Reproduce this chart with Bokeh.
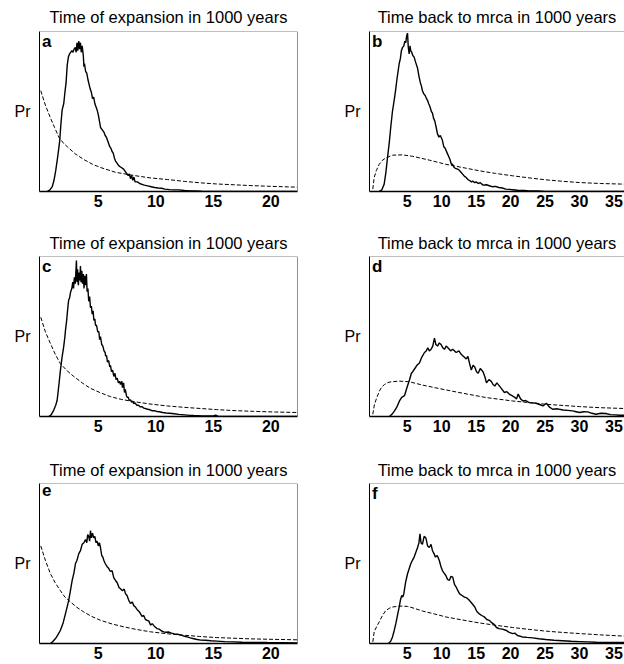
from bokeh.plotting import figure
from bokeh.layouts import column, row
from bokeh.models import Range1d, FixedTicker, Label, Span
from bokeh.embed import file_html
from bokeh.resources import INLINE

# ---------------- data ----------------
title_left = "Time of expansion in 1000 years"
title_right = "Time back to mrca in 1000 years"
ticks_left = [5, 10, 15, 20]
ticks_right = [5, 10, 15, 20, 25, 30, 35]

# panel a
a_t = [0.55, 0.8, 1.0, 1.15, 1.3, 1.42, 1.55, 1.65, 1.75, 1.86, 2.0, 2.1, 2.2, 2.3, 2.4, 2.5, 2.6, 2.7, 2.8, 2.9,
       3.0, 3.08, 3.15, 3.22, 3.3, 3.38, 3.45, 3.52, 3.6, 3.7, 3.75, 3.8, 3.9, 4.0, 4.1, 4.2, 4.3, 4.4, 4.5, 4.6,
       4.7, 4.8, 4.9, 5.0, 5.1, 5.2, 5.3, 5.4, 5.5, 5.6, 5.7, 5.8, 5.9, 6.0, 6.1, 6.2, 6.3, 6.4, 6.5, 6.6,
       6.7, 6.8, 6.9, 7.0, 7.2, 7.4, 7.6, 7.7, 7.8, 7.9, 8.0, 8.1, 8.2, 8.4, 8.6, 8.8, 9.0, 9.3, 9.6, 9.9,
       10.2, 10.5, 10.8, 11.2, 11.6, 12.0, 12.5, 13.0, 13.5, 14.0, 15.0, 16.0, 18.0, 20.0, 22.3]
a_pr = [0.0, 0.01, 0.03, 0.07, 0.13, 0.19, 0.26, 0.32, 0.42, 0.51, 0.55, 0.62, 0.68, 0.79, 0.84, 0.86, 0.87, 0.88, 0.87, 0.89,
        0.9, 0.87, 0.93, 0.88, 0.94, 0.89, 0.93, 0.87, 0.91, 0.85, 0.78, 0.8, 0.75, 0.74, 0.7, 0.67, 0.64, 0.62, 0.58, 0.59,
        0.55, 0.53, 0.51, 0.48, 0.44, 0.4, 0.39, 0.38, 0.37, 0.35, 0.34, 0.32, 0.3, 0.28, 0.27, 0.25, 0.24, 0.21, 0.19, 0.18,
        0.17, 0.16, 0.155, 0.15, 0.14, 0.12, 0.1, 0.11, 0.08, 0.1, 0.07, 0.09, 0.06, 0.06, 0.05, 0.045, 0.04, 0.035, 0.03, 0.025,
        0.022, 0.02, 0.015, 0.012, 0.01, 0.01, 0.006, 0.004, 0.003, 0.002, 0.001, 0.0, 0.0, 0.0, 0.0]
a_prior_t = [0, 0.4, 0.84, 1.2, 1.57, 2.0, 2.3, 3.0, 3.74, 4.5, 5.19, 6.5, 8.1, 9.5, 11, 12.5, 13.9, 15.3, 16.8, 18.2, 19.7, 21, 22.3]
a_prior = [0.63, 0.54, 0.46, 0.4, 0.34, 0.3, 0.28, 0.235, 0.2, 0.17, 0.15, 0.12, 0.1, 0.085, 0.075, 0.063, 0.054, 0.047, 0.042, 0.037, 0.033, 0.03, 0.027]

# panel b
b_t = [0.9, 1.3, 1.65, 1.9, 2.13, 2.4, 2.6, 2.85, 3.1, 3.3, 3.5, 3.7, 3.83, 4.0, 4.15, 4.31, 4.5, 4.65, 4.79, 4.9,
       5.04, 5.15, 5.28, 5.4, 5.5, 5.65, 5.8, 6.0, 6.2, 6.35, 6.5, 6.7, 6.9, 7.05, 7.2, 7.4, 7.6, 7.8, 7.94, 8.1,
       8.3, 8.5, 8.66, 8.8, 9.0, 9.2, 9.39, 9.6, 9.8, 10.1, 10.3, 10.5, 10.8, 11.0, 11.2, 11.4, 11.57, 11.8, 12.0, 12.3,
       12.5, 12.8, 13.0, 13.3, 13.5, 13.8, 14.0, 14.3, 14.5, 14.8, 15.0, 15.3, 15.6, 16.0, 16.5, 16.9, 17.3, 17.8, 18.3, 18.8,
       19.3, 19.8, 20.3, 21.0, 22.0, 22.7, 24.0, 25.0, 27.0, 30.0, 33.0, 36.5]
b_pr = [0.0, 0.01, 0.046, 0.12, 0.21, 0.31, 0.4, 0.5, 0.57, 0.63, 0.7, 0.76, 0.8, 0.83, 0.88, 0.9, 0.91, 0.94, 0.93, 0.97,
        0.99, 0.9, 0.86, 0.91, 0.88, 0.87, 0.85, 0.84, 0.81, 0.79, 0.77, 0.72, 0.68, 0.66, 0.63, 0.61, 0.6, 0.58, 0.57, 0.55,
        0.53, 0.5, 0.49, 0.46, 0.44, 0.4, 0.36, 0.34, 0.35, 0.32, 0.28, 0.27, 0.24, 0.22, 0.2, 0.17, 0.17, 0.15, 0.145, 0.14,
        0.135, 0.12, 0.11, 0.095, 0.09, 0.075, 0.07, 0.06, 0.065, 0.055, 0.06, 0.05, 0.055, 0.04, 0.042, 0.036, 0.03, 0.032, 0.025, 0.022,
        0.015, 0.013, 0.011, 0.008, 0.006, 0.004, 0.003, 0.001, 0.001, 0.0, 0.0, 0.0]
b_prior_t = [0, 0.2, 0.5, 0.93, 1.4, 1.9, 2.86, 4.3, 5.76, 7.0, 8.2, 10.6, 13.0, 15.4, 17.8, 20.3, 22.7, 25.1, 27.5, 30, 33, 36.5]
b_prior = [0.015, 0.087, 0.13, 0.17, 0.195, 0.21, 0.227, 0.229, 0.22, 0.208, 0.196, 0.17, 0.15, 0.13, 0.113, 0.098, 0.085, 0.073, 0.064, 0.056, 0.05, 0.046]

# panel c
c_t = [0.7, 0.9, 1.13, 1.3, 1.42, 1.55, 1.71, 1.85, 2.0, 2.1, 2.15, 2.25, 2.3, 2.38, 2.43, 2.5, 2.6, 2.7, 2.78, 2.85,
       2.92, 3.0, 3.05, 3.1, 3.15, 3.2, 3.27, 3.33, 3.4, 3.45, 3.5, 3.57, 3.63, 3.7, 3.76, 3.82, 3.9, 3.97, 4.03, 4.1,
       4.17, 4.25, 4.32, 4.4, 4.47, 4.55, 4.62, 4.7, 4.76, 4.85, 4.95, 5.05, 5.12, 5.19, 5.3, 5.4, 5.5, 5.6, 5.63, 5.72,
       5.8, 5.9, 6.0, 6.06, 6.15, 6.25, 6.35, 6.45, 6.55, 6.65, 6.75, 6.85, 6.93, 7.05, 7.1, 7.2, 7.28, 7.35, 7.45, 7.51,
       7.6, 7.7, 7.8, 7.9, 8.0, 8.09, 8.2, 8.35, 8.5, 8.65, 8.8, 8.96, 9.1, 9.3, 9.5, 9.7, 9.9, 10.1, 10.3, 10.6,
       10.9, 11.2, 11.6, 12.0, 12.5, 13.0, 13.3, 14.0, 15.0, 15.2, 15.4, 16.0, 18.0, 20.0, 22.3]
c_pr = [0.0, 0.01, 0.04, 0.07, 0.1, 0.18, 0.29, 0.37, 0.44, 0.5, 0.54, 0.6, 0.64, 0.7, 0.73, 0.74, 0.78, 0.8, 0.84, 0.8,
        0.87, 0.83, 0.9, 0.975, 0.84, 0.92, 0.82, 0.9, 0.85, 0.94, 0.84, 0.91, 0.83, 0.89, 0.8, 0.88, 0.82, 0.89, 0.78, 0.8,
        0.72, 0.75, 0.68, 0.69, 0.64, 0.66, 0.6, 0.61, 0.57, 0.57, 0.53, 0.53, 0.48, 0.5, 0.45, 0.44, 0.41, 0.4, 0.38, 0.38,
        0.34, 0.35, 0.31, 0.32, 0.28, 0.29, 0.25, 0.27, 0.23, 0.24, 0.21, 0.22, 0.2, 0.22, 0.18, 0.21, 0.15, 0.17, 0.13, 0.12,
        0.12, 0.1, 0.105, 0.09, 0.095, 0.08, 0.085, 0.07, 0.07, 0.06, 0.062, 0.052, 0.05, 0.045, 0.042, 0.036, 0.037, 0.031, 0.03, 0.025,
        0.022, 0.02, 0.017, 0.013, 0.01, 0.007, 0.006, 0.004, 0.003, 0.008, 0.002, 0.001, 0.0, 0.0, 0.0]
c_prior_t = [0, 0.4, 0.84, 1.25, 1.71, 2.3, 2.87, 3.6, 4.32, 5.2, 6.06, 7.0, 8.09, 9.5, 11, 12.5, 13.9, 15.3, 16.8, 18.5, 20.4, 22.3]
c_prior = [0.62, 0.53, 0.456, 0.39, 0.33, 0.285, 0.25, 0.21, 0.176, 0.148, 0.124, 0.107, 0.093, 0.078, 0.066, 0.057, 0.05, 0.043, 0.037, 0.032, 0.028, 0.025]

# panel d
d_t = [2.42, 2.8, 3.15, 3.5, 3.87, 4.2, 4.6, 4.95, 5.33, 5.6, 5.8, 6.1, 6.4, 6.77, 7.1, 7.5, 7.75, 7.98, 8.2, 8.46,
       8.7, 8.95, 9.15, 9.4, 9.65, 9.9, 10.15, 10.4, 10.65, 10.9, 11.1, 11.3, 11.6, 12.1, 12.5, 12.8, 13.05, 13.3, 13.55, 13.8,
       14.05, 14.3, 14.55, 14.8, 15.05, 15.3, 15.6, 16.0, 16.25, 16.5, 16.85, 17.2, 17.45, 17.7, 18.0, 18.4, 18.75, 19.1, 19.45, 19.8,
       20.2, 20.6, 20.85, 21.1, 21.45, 21.8, 22.2, 22.7, 23.2, 23.7, 24.2, 24.7, 25.2, 25.6, 26.1, 26.8, 27.6, 28.3, 29.0, 29.5,
       30.0, 30.6, 31.2, 31.8, 32.4, 33.1, 33.8, 34.5, 35.2, 35.8, 36.5]
d_pr = [0.0, 0.015, 0.035, 0.06, 0.097, 0.12, 0.13, 0.18, 0.23, 0.27, 0.28, 0.3, 0.32, 0.335, 0.37, 0.4, 0.41, 0.43, 0.41, 0.42,
        0.44, 0.49, 0.45, 0.44, 0.46, 0.45, 0.43, 0.42, 0.44, 0.43, 0.42, 0.41, 0.42, 0.4, 0.41, 0.39, 0.38, 0.37, 0.36, 0.375,
        0.33, 0.29, 0.32, 0.31, 0.28, 0.27, 0.3, 0.28, 0.25, 0.21, 0.23, 0.22, 0.2, 0.19, 0.21, 0.19, 0.17, 0.15, 0.155, 0.14,
        0.13, 0.12, 0.11, 0.14, 0.11, 0.097, 0.1, 0.087, 0.085, 0.083, 0.075, 0.066, 0.083, 0.06, 0.045, 0.048, 0.041, 0.038, 0.035, 0.03,
        0.025, 0.03, 0.029, 0.02, 0.014, 0.02, 0.019, 0.012, 0.01, 0.008, 0.008]
d_prior_t = [0, 0.24, 0.6, 0.97, 1.3, 1.7, 2.2, 2.66, 3.87, 5.3, 7.26, 9.7, 13.1, 16.5, 20.3, 25.2, 30, 33, 36.5]
d_prior = [0.014, 0.076, 0.12, 0.16, 0.185, 0.2, 0.212, 0.217, 0.221, 0.217, 0.196, 0.174, 0.145, 0.118, 0.097, 0.076, 0.062, 0.055, 0.05]

# panel e
e_t = [0.84, 1.05, 1.28, 1.5, 1.71, 1.95, 2.15, 2.3, 2.43, 2.58, 2.73, 2.88, 3.02, 3.15, 3.3, 3.45, 3.6, 3.75, 3.89, 4.0,
       4.08, 4.17, 4.25, 4.32, 4.4, 4.5, 4.6, 4.7, 4.8, 4.9, 5.0, 5.1, 5.19, 5.3, 5.4, 5.48, 5.6, 5.77, 5.9, 6.05,
       6.2, 6.35, 6.5, 6.65, 6.8, 6.93, 7.1, 7.25, 7.37, 7.5, 7.65, 7.8, 7.95, 8.1, 8.23, 8.4, 8.55, 8.67, 8.8, 8.95,
       9.1, 9.25, 9.4, 9.55, 9.69, 9.85, 10.0, 10.1, 10.3, 10.5, 10.7, 10.9, 11.1, 11.3, 11.6, 11.9, 12.2, 12.5, 12.8, 13.0,
       13.3, 13.6, 13.9, 14.3, 14.8, 15.3, 16.0, 16.8, 17.5, 18.5, 19.7, 21.0, 22.3]
e_pr = [0.0, 0.012, 0.031, 0.055, 0.083, 0.13, 0.187, 0.23, 0.27, 0.33, 0.394, 0.44, 0.5, 0.52, 0.56, 0.58, 0.62, 0.63, 0.65, 0.63,
        0.68, 0.67, 0.64, 0.705, 0.66, 0.69, 0.66, 0.67, 0.63, 0.64, 0.61, 0.63, 0.6, 0.55, 0.54, 0.52, 0.5, 0.48, 0.47, 0.45,
        0.456, 0.41, 0.394, 0.38, 0.35, 0.342, 0.33, 0.34, 0.311, 0.3, 0.27, 0.25, 0.26, 0.235, 0.228, 0.21, 0.2, 0.187, 0.17, 0.175,
        0.15, 0.145, 0.14, 0.115, 0.124, 0.11, 0.1, 0.093, 0.09, 0.078, 0.073, 0.07, 0.072, 0.066, 0.06, 0.058, 0.052, 0.045, 0.04, 0.035,
        0.03, 0.025, 0.021, 0.02, 0.017, 0.015, 0.012, 0.01, 0.008, 0.007, 0.006, 0.005, 0.004]
e_prior_t = [0, 0.4, 0.84, 1.25, 1.71, 2.1, 2.58, 3.1, 3.74, 4.4, 5.19, 6.2, 7.22, 8.3, 9.54, 11, 12.4, 13.8, 15.3, 16.8, 18.2, 20.2, 22.3]
e_prior = [0.61, 0.52, 0.436, 0.38, 0.33, 0.29, 0.26, 0.228, 0.197, 0.17, 0.145, 0.122, 0.104, 0.088, 0.073, 0.061, 0.052, 0.044, 0.037, 0.033, 0.029, 0.026, 0.023]

# panel f
f_t = [2.28, 2.6, 2.86, 3.1, 3.34, 3.6, 3.83, 4.0, 4.2, 4.35, 4.5, 4.75, 5.04, 5.3, 5.52, 5.75, 6.0, 6.25, 6.5, 6.7,
       6.84, 7.0, 7.2, 7.45, 7.7, 7.95, 8.2, 8.45, 8.66, 8.9, 9.1, 9.35, 9.64, 9.9, 10.1, 10.35, 10.6, 10.85, 11.1, 11.35,
       11.6, 11.85, 12.1, 12.35, 12.6, 12.95, 13.3, 13.65, 14.0, 14.4, 14.8, 15.1, 15.4, 15.8, 16.2, 16.55, 16.9, 17.25, 17.6, 17.95,
       18.3, 18.8, 19.3, 19.8, 20.3, 20.6, 21.0, 21.7, 22.4, 23.2, 24.1, 25.1, 26.3, 27.5, 28.8, 30.0, 31.2, 32.4, 34.5, 36.5]
f_pr = [0.0, 0.015, 0.041, 0.08, 0.124, 0.18, 0.228, 0.27, 0.3, 0.29, 0.31, 0.38, 0.436, 0.47, 0.5, 0.52, 0.54, 0.57, 0.6, 0.63,
        0.685, 0.63, 0.62, 0.67, 0.66, 0.61, 0.6, 0.62, 0.58, 0.56, 0.54, 0.55, 0.52, 0.48, 0.456, 0.44, 0.425, 0.4, 0.394, 0.42,
        0.415, 0.37, 0.353, 0.33, 0.31, 0.3, 0.29, 0.285, 0.27, 0.25, 0.228, 0.2, 0.187, 0.175, 0.166, 0.15, 0.145, 0.13, 0.12, 0.1,
        0.093, 0.09, 0.083, 0.07, 0.062, 0.065, 0.05, 0.041, 0.038, 0.035, 0.03, 0.025, 0.02, 0.017, 0.014, 0.012, 0.01, 0.008, 0.007, 0.006]
f_prior_t = [0, 0.2, 0.55, 0.93, 1.4, 1.9, 2.4, 2.86, 3.83, 5.04, 6.0, 7.2, 8.9, 10.6, 13.0, 15.4, 17.8, 20.3, 22.7, 25.2, 27.6, 30, 33, 36.5]
f_prior = [0.01, 0.073, 0.105, 0.135, 0.175, 0.207, 0.22, 0.228, 0.234, 0.232, 0.22, 0.203, 0.185, 0.166, 0.147, 0.129, 0.114, 0.1, 0.088, 0.077, 0.069, 0.062, 0.054, 0.046]

# ---------------- layout ----------------
FONT = "Liberation Sans"
COL_W = [333, 291]
COL_LEFT = [39, 36]
COL_RIGHT = [36, 0]
ROW_H = [225, 227, 212]
FRAME_H = 160
TOP_B = 31
X_RANGES = [(-0.11, 22.32), (-0.48, 36.53)]


def panel(col, rowi, t, pr, pt, pp, letter):
    W = COL_W[col]
    H = ROW_H[rowi]
    bot_b = H - TOP_B - FRAME_H
    xs, xe = X_RANGES[col]
    p = figure(width=W, height=H, x_range=Range1d(xs, xe), y_range=Range1d(0, 1),
               output_backend="svg", toolbar_location=None,
               min_border_left=COL_LEFT[col], min_border_right=COL_RIGHT[col],
               min_border_top=TOP_B, min_border_bottom=bot_b,
               outline_line_color=None, background_fill_color="white",
               border_fill_color="white")
    p.grid.visible = False

    p.title.text = title_left if col == 0 else title_right
    p.title.align = "center"
    p.title.text_font = FONT
    p.title.text_font_size = "16.5px"
    p.title.text_font_style = "normal"
    p.title.text_color = "black"
    p.title.standoff = 11 if rowi == 0 else 9

    xa = p.xaxis[0]
    xa.ticker = FixedTicker(ticks=ticks_left if col == 0 else ticks_right)
    xa.major_tick_line_color = None
    xa.minor_tick_line_color = None
    xa.major_tick_out = 0
    xa.major_tick_in = 0
    xa.major_label_standoff = 3
    xa.major_label_text_font = FONT
    xa.major_label_text_font_size = "16px"
    xa.major_label_text_font_style = "bold"
    xa.major_label_text_color = "black"
    xa.axis_line_color = "black"
    xa.axis_line_width = 1.5

    ya = p.yaxis[0]
    ya.ticker = FixedTicker(ticks=[])
    ya.major_tick_line_color = None
    ya.minor_tick_line_color = None
    ya.major_tick_out = 0
    ya.major_tick_in = 0
    ya.axis_label = "Pr"
    ya.axis_label_orientation = "horizontal"
    ya.axis_label_standoff = 9
    ya.axis_label_text_font = FONT
    ya.axis_label_text_font_size = "16px"
    ya.axis_label_text_font_style = "normal"
    ya.axis_label_text_color = "black"
    ya.axis_line_color = "black"
    ya.axis_line_width = 1

    p.add_layout(Span(location=1, dimension="width", line_color="#808080", line_width=1))
    if col == 0:
        p.add_layout(Span(location=xe, dimension="height", line_color="#222222", line_width=1))

    p.line(pt, pp, line_color="black", line_width=1, line_dash="4 2")
    p.line(t, pr, line_color="black", line_width=1.4)

    p.add_layout(Label(x=xs, y=1, x_offset=2.5, y_offset=0, text=letter,
                       text_align="left", text_baseline="top", text_font=FONT,
                       text_font_size="17px", text_font_style="bold", text_color="black"))
    return p


pa = panel(0, 0, a_t, a_pr, a_prior_t, a_prior, "a")
pb = panel(1, 0, b_t, b_pr, b_prior_t, b_prior, "b")
pc = panel(0, 1, c_t, c_pr, c_prior_t, c_prior, "c")
pd = panel(1, 1, d_t, d_pr, d_prior_t, d_prior, "d")
pe = panel(0, 2, e_t, e_pr, e_prior_t, e_prior, "e")
pf = panel(1, 2, f_t, f_pr, f_prior_t, f_prior, "f")

layout = column(row(pa, pb, spacing=0), row(pc, pd, spacing=0), row(pe, pf, spacing=0), spacing=0)

open("out.html", "w").write(file_html(layout, INLINE))
